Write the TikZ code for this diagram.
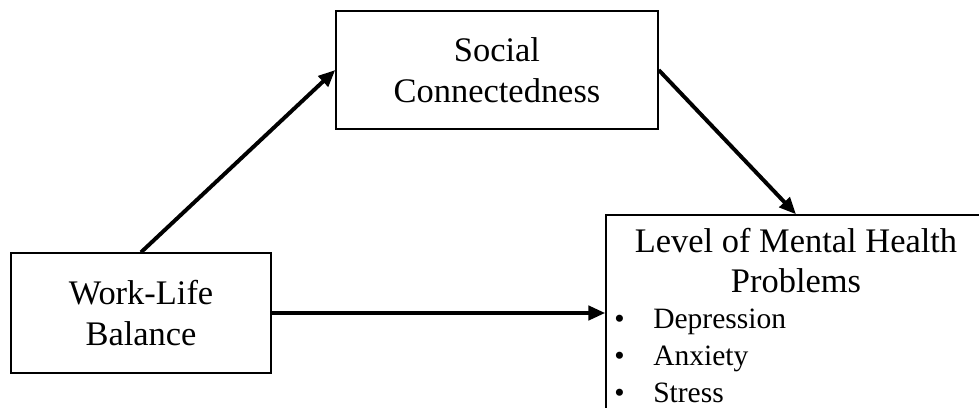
\documentclass[tikz,border=0pt]{standalone}
\usepackage{fontspec}
\setmainfont{Liberation Serif}
\usetikzlibrary{arrows.meta}

\begin{document}
\begin{tikzpicture}[
    box/.style={draw=black, line width=1pt, align=center, font=\fontsize{24.5pt}{29pt}\selectfont},
    link/.style={line width=2.8pt, black, -{Triangle[length=12pt,width=10pt]}},
    item/.style={anchor=base west, inner sep=0pt, font=\fontsize{21pt}{26pt}\selectfont}
  ]
  \useasboundingbox (0,0) rectangle (24.475,10.175);
  % top box
  \node [box, minimum width=8.05cm, minimum height=2.95cm] (social) at (12.425,8.425) {Social\\Connectedness};
  % left box
  \node [box, minimum width=6.5cm, minimum height=3cm] (balance) at (3.525,2.35) {Work-Life\\Balance};
  % right box (runs past the page edge)
  \node [box, minimum width=9.5cm, minimum height=4.9cm] (health) at (19.9,2.35) {};
  \node [align=center, inner sep=0pt, anchor=base, font=\fontsize{24.5pt}{28pt}\selectfont] (healthtitle) at (19.9,2.875) {Level of Mental Health\\Problems};
  % list in right box
  \node [item] (depression) at (15.35,1.975) {\makebox[0.975cm][l]{\textbullet}Depression};
  \node [item] (anxiety) at (15.35,1.05) {\makebox[0.975cm][l]{\textbullet}Anxiety};
  \node [item] (stress) at (15.35,0.125) {\makebox[0.975cm][l]{\textbullet}Stress};
  % arrows
  \draw [link] (balance.north) -- (social.west);
  \draw [link] (social.east) -- (health.north);
  \draw [link] (balance.east) -- (health.west);
\end{tikzpicture}
\end{document}
